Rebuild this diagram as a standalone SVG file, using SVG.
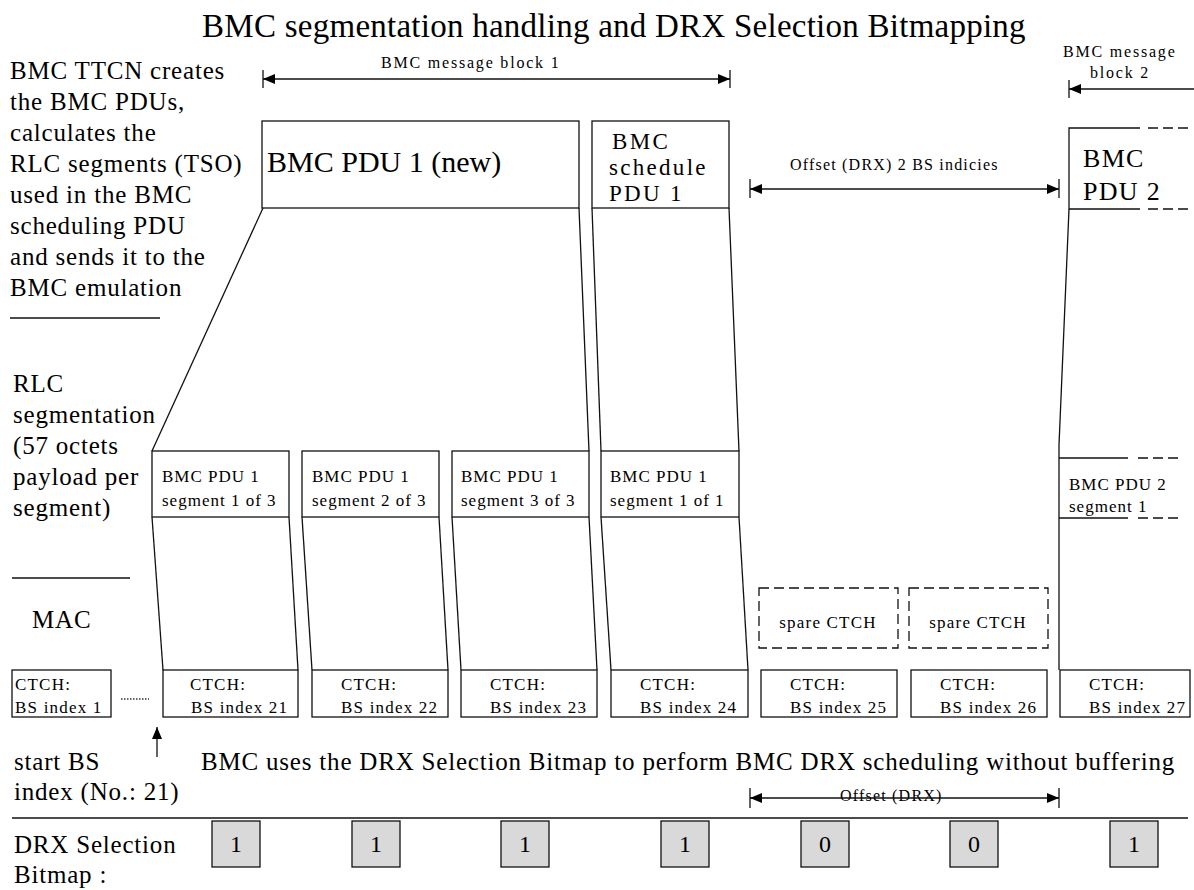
<svg xmlns="http://www.w3.org/2000/svg" width="1194" height="890" viewBox="0 0 1194 890">
<defs>
<style>
text{font-family:"Liberation Serif","Times New Roman",serif;fill:#000}
.title{font-size:33px;letter-spacing:0.25px}
.big{font-size:25px;letter-spacing:0.8px}
.pdu{font-size:30px}
.sched{font-size:23px;letter-spacing:2.3px}
.pdu2{font-size:26px;letter-spacing:1.3px}
.sm{font-size:16px;letter-spacing:1.8px}
.off{font-size:16px;letter-spacing:1.2px}
.seg{font-size:17px;letter-spacing:1px}
.ctch{font-size:17px;letter-spacing:1.2px}
.bit{font-size:24px}
.ln{stroke:#111;stroke-width:1.3;fill:none}
.box{stroke:#111;stroke-width:1.3;fill:#fff}
.dash{stroke:#111;stroke-width:1.3;fill:none;stroke-dasharray:10 5}
.bbox{stroke:#111;stroke-width:1.3;fill:#d9d9d9}
</style>
<marker id="ah" viewBox="0 0 12 10" refX="12" refY="5" markerWidth="12" markerHeight="10" markerUnits="userSpaceOnUse" orient="auto">
<path d="M0,0 L12,5 L0,10 Z" fill="#000"/>
</marker>
</defs>
<rect width="1194" height="890" fill="#fff"/>
<text class="title" x="614" y="37" text-anchor="middle">BMC segmentation handling and DRX Selection Bitmapping</text>

<g id="left-text-top">
<text class="big" x="10" y="79">BMC TTCN creates</text>
<text class="big" x="10" y="110">the BMC PDUs,</text>
<text class="big" x="10" y="141">calculates the</text>
<text class="big" x="10" y="172">RLC segments (TSO)</text>
<text class="big" x="10" y="203">used in the BMC</text>
<text class="big" x="10" y="234">scheduling PDU</text>
<text class="big" x="10" y="265">and sends it to the</text>
<text class="big" x="10" y="296">BMC emulation</text>
<line class="ln" x1="10" y1="318" x2="160" y2="318"/>
</g>
<g id="left-text-rlc">
<text class="big" x="13" y="392">RLC</text>
<text class="big" x="13" y="423">segmentation</text>
<text class="big" x="13" y="454">(57 octets</text>
<text class="big" x="13" y="485">payload per</text>
<text class="big" x="13" y="516">segment)</text>
<line class="ln" x1="12" y1="578" x2="130" y2="578"/>
<text class="big" x="32" y="628">MAC</text>
</g>

<g id="block1-arrow">
<text class="sm" x="381" y="68">BMC message block 1</text>
</g>
<g id="offset-top-label">
<text class="off" x="790" y="170">Offset (DRX) 2 BS indicies</text>
</g>
<g id="block2-label">
<text class="sm" x="1063" y="57">BMC message</text>
<text class="sm" x="1090" y="78">block 2</text>
</g>

<g id="pdu1">
<rect class="box" x="262" y="121" width="317" height="87"/>
<text class="pdu" x="267" y="172">BMC PDU 1 (new)</text>
</g>
<g id="sched1">
<rect class="box" x="592" y="121" width="137" height="87"/>
<text class="sched" x="612" y="149">BMC</text>
<text class="sched" x="609" y="175">schedule</text>
<text class="sched" x="609" y="201">PDU 1</text>
</g>
<g id="pdu2">
<polyline class="ln" points="1140,128 1069,128 1069,209 1140,209"/>
<line class="dash" x1="1148" y1="128" x2="1190" y2="128"/>
<line class="dash" x1="1148" y1="209" x2="1190" y2="209"/>
<text class="pdu2" x="1083" y="167">BMC</text>
<text class="pdu2" x="1083" y="200">PDU 2</text>
</g>

<g id="seg1">
<rect class="box" x="152" y="451" width="137" height="66"/>
<text class="seg" x="162" y="482">BMC PDU 1</text>
<text class="seg" x="162" y="506">segment 1 of 3</text>
</g>
<g id="seg2">
<rect class="box" x="302" y="451" width="137" height="66"/>
<text class="seg" x="312" y="482">BMC PDU 1</text>
<text class="seg" x="312" y="506">segment 2 of 3</text>
</g>
<g id="seg3">
<rect class="box" x="452" y="451" width="137" height="66"/>
<text class="seg" x="461" y="482">BMC PDU 1</text>
<text class="seg" x="461" y="506">segment 3 of 3</text>
</g>
<g id="seg4">
<rect class="box" x="601" y="451" width="138" height="66"/>
<text class="seg" x="610" y="482">BMC PDU 1</text>
<text class="seg" x="610" y="506">segment 1 of 1</text>
</g>
<g id="seg-pdu2">
<line class="ln" x1="1059" y1="458" x2="1128" y2="458"/>
<line class="ln" x1="1059" y1="518" x2="1128" y2="518"/>
<line class="dash" x1="1138" y1="458" x2="1180" y2="458"/>
<line class="dash" x1="1138" y1="518" x2="1180" y2="518"/>
<text class="seg" x="1069" y="490">BMC PDU 2</text>
<text class="seg" x="1069" y="512">segment 1</text>
</g>

<g id="spare25">
<rect class="dash" x="759" y="588" width="139" height="60"/>
<text class="ctch" x="828" y="628" text-anchor="middle">spare CTCH</text>
</g>
<g id="spare26">
<rect class="dash" x="909" y="588" width="139" height="60"/>
<text class="ctch" x="978" y="628" text-anchor="middle">spare CTCH</text>
</g>

<g id="ctch1">
<rect class="box" x="12" y="670" width="99" height="47"/>
<text class="ctch" x="15" y="690">CTCH:</text>
<text class="ctch" x="15" y="713">BS index 1</text>
</g>
<g id="ctch21">
<rect class="box" x="163" y="670" width="135" height="47"/>
<text class="ctch" x="190" y="690">CTCH:</text>
<text class="ctch" x="191" y="713">BS index 21</text>
</g>
<g id="ctch22">
<rect class="box" x="312" y="670" width="136" height="47"/>
<text class="ctch" x="341" y="690">CTCH:</text>
<text class="ctch" x="341" y="713">BS index 22</text>
</g>
<g id="ctch23">
<rect class="box" x="461" y="670" width="136" height="47"/>
<text class="ctch" x="490" y="690">CTCH:</text>
<text class="ctch" x="490" y="713">BS index 23</text>
</g>
<g id="ctch24">
<rect class="box" x="611" y="670" width="137" height="47"/>
<text class="ctch" x="640" y="690">CTCH:</text>
<text class="ctch" x="640" y="713">BS index 24</text>
</g>
<g id="ctch25">
<rect class="box" x="761" y="670" width="136" height="47"/>
<text class="ctch" x="790" y="690">CTCH:</text>
<text class="ctch" x="790" y="713">BS index 25</text>
</g>
<g id="ctch26">
<rect class="box" x="911" y="670" width="136" height="47"/>
<text class="ctch" x="940" y="690">CTCH:</text>
<text class="ctch" x="940" y="713">BS index 26</text>
</g>
<g id="ctch27">
<rect class="box" x="1060" y="670" width="130" height="47"/>
<text class="ctch" x="1089" y="690">CTCH:</text>
<text class="ctch" x="1089" y="713">BS index 27</text>
</g>

<g id="bottom-text">
<text class="big" x="14" y="770">start BS</text>
<text class="big" x="14" y="800">index (No.: 21)</text>
<text class="big" x="201" y="770">BMC uses the DRX Selection Bitmap to perform BMC DRX scheduling without buffering</text>
<text class="off" x="840" y="801">Offset (DRX)</text>
<line class="ln" x1="12" y1="818" x2="1188" y2="818"/>
<text class="big" x="14" y="853">DRX Selection</text>
<text class="big" x="14" y="883">Bitmap :</text>
</g>

<g id="bitmap">
<rect class="bbox" x="212" y="821" width="48" height="46"/><text class="bit" x="236" y="852" text-anchor="middle">1</text>
<rect class="bbox" x="352" y="821" width="48" height="46"/><text class="bit" x="376" y="852" text-anchor="middle">1</text>
<rect class="bbox" x="501" y="821" width="48" height="46"/><text class="bit" x="525" y="852" text-anchor="middle">1</text>
<rect class="bbox" x="661" y="821" width="48" height="46"/><text class="bit" x="685" y="852" text-anchor="middle">1</text>
<rect class="bbox" x="801" y="821" width="48" height="46"/><text class="bit" x="825" y="852" text-anchor="middle">0</text>
<rect class="bbox" x="950" y="821" width="48" height="46"/><text class="bit" x="974" y="852" text-anchor="middle">0</text>
<rect class="bbox" x="1110" y="821" width="48" height="46"/><text class="bit" x="1134" y="852" text-anchor="middle">1</text>
</g>

<g id="connectors">
<line class="ln" x1="263" y1="70" x2="263" y2="88"/>
<line class="ln" x1="730" y1="70" x2="730" y2="88"/>
<line class="ln" x1="496" y1="79" x2="263" y2="79" marker-end="url(#ah)"/>
<line class="ln" x1="496" y1="79" x2="730" y2="79" marker-end="url(#ah)"/>
<line class="ln" x1="750" y1="179" x2="750" y2="198"/>
<line class="ln" x1="1059" y1="179" x2="1059" y2="198"/>
<line class="ln" x1="905" y1="189" x2="750" y2="189" marker-end="url(#ah)"/>
<line class="ln" x1="905" y1="189" x2="1059" y2="189" marker-end="url(#ah)"/>
<line class="ln" x1="1069" y1="80" x2="1069" y2="98"/>
<line class="ln" x1="1194" y1="89" x2="1069" y2="89" marker-end="url(#ah)"/>
<line class="ln" x1="263" y1="208" x2="152" y2="451"/>
<line class="ln" x1="579" y1="208" x2="589" y2="451"/>
<line class="ln" x1="592" y1="208" x2="601" y2="451"/>
<line class="ln" x1="729" y1="208" x2="739" y2="451"/>
<polyline class="ln" points="1069,209 1059,445 1059,670"/>
<line class="ln" x1="152" y1="517" x2="163" y2="670"/>
<line class="ln" x1="289" y1="517" x2="298" y2="670"/>
<line class="ln" x1="302" y1="517" x2="312" y2="670"/>
<line class="ln" x1="439" y1="517" x2="448" y2="670"/>
<line class="ln" x1="452" y1="517" x2="461" y2="670"/>
<line class="ln" x1="589" y1="517" x2="597" y2="670"/>
<line class="ln" x1="601" y1="517" x2="611" y2="670"/>
<line class="ln" x1="739" y1="517" x2="748" y2="670"/>
<line x1="121" y1="699" x2="149" y2="699" stroke="#333" stroke-width="1.3" stroke-dasharray="1.5 1.5"/>
<line class="ln" x1="157" y1="757" x2="157" y2="727" marker-end="url(#ah)"/>
<line class="ln" x1="750" y1="788" x2="750" y2="808"/>
<line class="ln" x1="1059" y1="788" x2="1059" y2="808"/>
<line class="ln" x1="905" y1="798" x2="750" y2="798" marker-end="url(#ah)"/>
<line class="ln" x1="905" y1="798" x2="1059" y2="798" marker-end="url(#ah)"/>
</g>
</svg>
